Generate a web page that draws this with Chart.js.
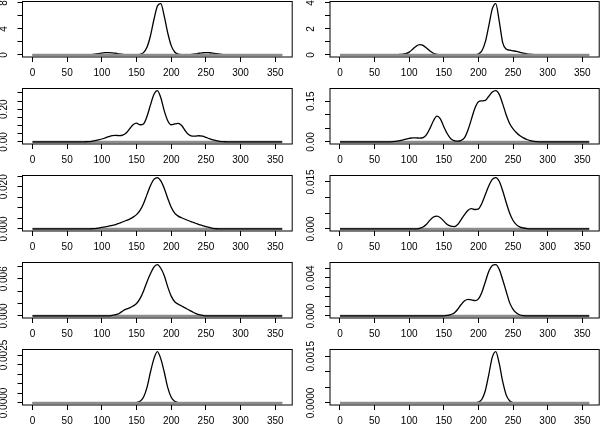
<!DOCTYPE html>
<html>
<head>
<meta charset="utf-8">
<script src="https://cdn.jsdelivr.net/npm/chart.js@4.4.1/dist/chart.umd.min.js"></script>
<style>
  html, body { margin: 0; padding: 0; background: #fff; overflow: hidden; }
  body { width: 600px; height: 429px; position: relative; }
  canvas { position: absolute; }
</style>
</head>
<body>
<script>
// x grid shared by all ten density curves
const X = [0, 60, 70, 75, 80, 85, 90, 95, 100, 105, 110, 115, 120, 125, 130, 135, 140, 145, 150, 155,
  160, 165, 170, 175, 180, 185, 190, 195, 200, 205, 210, 215, 220, 225, 230, 235, 240, 245, 250, 255,
  260, 265, 270, 275, 280, 285, 290, 300, 360];
const xTicks = [0, 50, 100, 150, 200, 250, 300, 350];
const zeroLine = [0, 360];

// left column (rows 1-5)
const yL1 = [0, 0, 0, 0.01,
  0.03, 0.06, 0.12, 0.2, 0.29, 0.37, 0.36, 0.33, 0.26, 0.17,
  0.1, 0.05, 0.03, 0.02, 0.03, 0.08, 0.35, 1.17, 2.91, 5.41,
  7.49, 7.9, 5.92, 3.37, 1.43, 0.45, 0.13, 0.05, 0.04, 0.06,
  0.1, 0.17, 0.26, 0.33, 0.37, 0.34, 0.29, 0.2, 0.12, 0.06,
  0.03, 0.01, 0, 0, 0];
const yL2 = [0, 0, 0, 0.001,
  0.002, 0.004, 0.008, 0.012, 0.018, 0.025, 0.032, 0.038, 0.04, 0.039,
  0.042, 0.055, 0.08, 0.105, 0.115, 0.105, 0.11, 0.155, 0.225, 0.29,
  0.314, 0.27, 0.19, 0.13, 0.105, 0.11, 0.113, 0.1, 0.07, 0.045,
  0.036, 0.036, 0.038, 0.035, 0.028, 0.02, 0.013, 0.008, 0.004, 0.002,
  0.001, 0, 0, 0, 0];
const yL3 = [0, 0, 0, 0,
  0, 0.0001, 0.0002, 0.0004, 0.0007, 0.001, 0.0013, 0.0017, 0.0021, 0.0027,
  0.0033, 0.004, 0.0047, 0.0056, 0.0068, 0.0088, 0.012, 0.0163, 0.0205, 0.0235,
  0.0244, 0.0228, 0.0192, 0.0145, 0.0103, 0.0075, 0.0061, 0.0053, 0.0046, 0.0039,
  0.0033, 0.0027, 0.0021, 0.0016, 0.0011, 0.0007, 0.0003, 0.0001, 0, 0,
  0, 0, 0, 0, 0];
const yL4 = [0, 0, 0, 0,
  0, 0, 0, 0, 0, 0, 0, 0.0001, 0.0002, 0.0004,
  0.0008, 0.0011, 0.0013, 0.0016, 0.002, 0.0028, 0.004, 0.0055, 0.0068, 0.0079,
  0.0083, 0.0077, 0.0065, 0.0047, 0.0032, 0.0023, 0.0019, 0.0016, 0.0013, 0.001,
  0.0007, 0.0004, 0.0002, 0.0001, 0, 0, 0, 0, 0, 0,
  0, 0, 0, 0, 0];
const yL5 = [0, 0, 0, 0,
  0, 0, 0, 0, 0, 0, 0, 0, 0, 0,
  0, 0, 0, 0, 0.00002, 0.00009, 0.0003, 0.0008, 0.0016, 0.0023,
  0.00268, 0.0023, 0.0016, 0.0008, 0.0003, 0.00009, 0.00002, 0, 0, 0,
  0, 0, 0, 0, 0, 0, 0, 0, 0, 0,
  0, 0, 0, 0, 0];

// right column (rows 1-5)
const yR1 = [0, 0, 0, 0.01,
  0.02, 0.03, 0.05, 0.1, 0.22, 0.44, 0.67, 0.79, 0.74, 0.53,
  0.3, 0.13, 0.05, 0.02, 0.01, 0.01, 0.01, 0.01, 0.01, 0.01,
  0.01, 0.01, 0.01, 0.02, 0.07, 0.32, 1.02, 2.26, 3.54, 3.95,
  2.6, 0.95, 0.45, 0.37, 0.32, 0.27, 0.2, 0.14, 0.08, 0.05,
  0.03, 0.01, 0, 0, 0];
const yR2 = [0, 0, 0, 0.001,
  0.002, 0.004, 0.007, 0.01, 0.013, 0.015, 0.015, 0.014, 0.016, 0.027,
  0.05, 0.078, 0.095, 0.085, 0.056, 0.03, 0.012, 0.005, 0.003, 0.006,
  0.016, 0.045, 0.085, 0.125, 0.148, 0.151, 0.153, 0.168, 0.184, 0.189,
  0.175, 0.14, 0.1, 0.068, 0.048, 0.034, 0.023, 0.015, 0.009, 0.005,
  0.002, 0.001, 0, 0, 0];
const yR3 = [0, 0, 0, 0,
  0, 0, 0, 0, 0, 0, 0, 0.0002, 0.0006, 0.0015,
  0.0028, 0.0038, 0.0041, 0.0036, 0.0025, 0.0014, 0.0009, 0.00075, 0.0014, 0.003,
  0.0046, 0.006, 0.0065, 0.0062, 0.0064, 0.0082, 0.011, 0.0138, 0.0158, 0.0164,
  0.0152, 0.0122, 0.0085, 0.0051, 0.0027, 0.0013, 0.0006, 0.0003, 0.0001, 0,
  0, 0, 0, 0, 0];
const yR4 = [0, 0, 0, 0,
  0, 0, 0, 0, 0, 0, 0, 0, 0, 0,
  0, 0, 0, 0, 0, 0.00005, 0.00015, 0.0003, 0.0007, 0.0012,
  0.0016, 0.00175, 0.0017, 0.0016, 0.0018, 0.0025, 0.0036, 0.0047, 0.0053, 0.0054,
  0.0049, 0.0038, 0.0026, 0.0014, 0.0007, 0.0003, 0.0001, 0.00003, 0, 0,
  0, 0, 0, 0, 0];
const yR5 = [0, 0, 0, 0,
  0, 0, 0, 0, 0, 0, 0, 0, 0, 0,
  0, 0, 0, 0, 0, 0, 0, 0, 0, 0,
  0, 0, 0, 0.00001, 0.000025, 0.00012, 0.0004, 0.00092, 0.00147, 0.00165,
  0.00127, 0.00069, 0.00026, 0.00007, 0.00001, 0, 0, 0, 0, 0,
  0, 0, 0, 0, 0];

// y ticks and which of them carry a label (R drops the crowded ones)
const ticksL1 = [0, 2, 4, 6, 8],                      labelsL1 = ['0', '4', '8'];
const ticksL2 = [0, 0.05, 0.1, 0.15, 0.2, 0.25, 0.3], labelsL2 = ['0.00', '0.20'];
const ticksL3 = [0, 0.005, 0.01, 0.015, 0.02, 0.025], labelsL3 = ['0.000', '0.020'];
const ticksL4 = [0, 0.002, 0.004, 0.006, 0.008],      labelsL4 = ['0.000', '0.006'];
const ticksL5 = [0, 0.0005, 0.001, 0.0015, 0.002, 0.0025], labelsL5 = ['0.0000', '0.0025'];
const ticksR1 = [0, 1, 2, 3, 4],                      labelsR1 = ['0', '2', '4'];
const ticksR2 = [0, 0.05, 0.1, 0.15],                 labelsR2 = ['0.00', '0.15'];
const ticksR3 = [0, 0.005, 0.01, 0.015],              labelsR3 = ['0.000', '0.015'];
const ticksR4 = [0, 0.001, 0.002, 0.003, 0.004, 0.005], labelsR4 = ['0.000', '0.004'];
const ticksR5 = [0, 0.0005, 0.001, 0.0015],           labelsR5 = ['0.0000', '0.0015'];

// grayTop: the gray zero line shows over the flat part of the curve
const panels = [
  { col: 0, row: 0, y: yL1, ticks: ticksL1, labels: labelsL1, grayTop: true },
  { col: 1, row: 0, y: yR1, ticks: ticksR1, labels: labelsR1, grayTop: true },
  { col: 0, row: 1, y: yL2, ticks: ticksL2, labels: labelsL2, grayTop: false },
  { col: 1, row: 1, y: yR2, ticks: ticksR2, labels: labelsR2, grayTop: false },
  { col: 0, row: 2, y: yL3, ticks: ticksL3, labels: labelsL3, grayTop: false },
  { col: 1, row: 2, y: yR3, ticks: ticksR3, labels: labelsR3, grayTop: false },
  { col: 0, row: 3, y: yL4, ticks: ticksL4, labels: labelsL4, grayTop: false },
  { col: 1, row: 3, y: yR4, ticks: ticksR4, labels: labelsR4, grayTop: false },
  { col: 0, row: 4, y: yL5, ticks: ticksL5, labels: labelsL5, grayTop: true },
  { col: 1, row: 4, y: yR5, ticks: ticksR5, labels: labelsR5, grayTop: true },
];

// layout (R mfrow=c(5,2) look)
const FONT_FAMILY = '"Liberation Sans", Arial, Helvetica, sans-serif';
const FONT_SIZE = 10;
const COLS = [
  { left: 0, yAxis: 22.5, padRight: 7.8 },
  { left: 300, yAxis: 30, padRight: 0.8 },
];
const ROW_STEP = 87, BOX_TOP = 1.5, BOX_H = 55.5, BELOW = 30, ABOVE = 20;

// box around the plot region + rotated y labels, like base graphics
const rBox = {
  id: 'rbox',
  afterDatasetsDraw(chart) {
    const { ctx, chartArea: a } = chart;
    ctx.save();
    ctx.strokeStyle = '#000';
    ctx.lineWidth = 1;
    ctx.strokeRect(a.left, a.top, a.right - a.left, a.bottom - a.top);
    ctx.restore();
  },
  afterDraw(chart, args, opts) {
    const { ctx, chartArea: a, scales } = chart;
    ctx.save();
    ctx.fillStyle = '#000';
    ctx.font = `${FONT_SIZE}px ${FONT_FAMILY}`;
    ctx.textAlign = 'center';
    ctx.textBaseline = 'middle';
    for (const lab of opts.labels) {
      ctx.save();
      ctx.translate(a.left - 18.3, scales.y.getPixelForValue(Number(lab)));
      ctx.rotate(-Math.PI / 2);
      ctx.fillText(lab, 0, 0);
      ctx.restore();
    }
    ctx.restore();
  },
};

for (const p of panels) {
  const col = COLS[p.col];
  const canvas = document.createElement('canvas');
  const h = ABOVE + BOX_TOP + BOX_H + BELOW;
  canvas.width = 300;
  canvas.height = h;
  canvas.style.left = col.left + 'px';
  canvas.style.top = (p.row * ROW_STEP - ABOVE) + 'px';
  document.body.appendChild(canvas);

  const ymax = Math.max(...p.y);
  const tickMarks = { drawOnChartArea: false, drawTicks: true, tickLength: 5, color: '#000', lineWidth: 1 };
  const curve = {
    data: X.map((x, i) => ({ x, y: p.y[i] })),
    borderColor: '#000', borderWidth: 1.3, pointRadius: 0,
    cubicInterpolationMode: 'monotone', fill: false,
  };
  const zero = {
    data: zeroLine.map((x) => ({ x, y: 0 })),
    borderColor: '#8c8c8c', borderWidth: 2.5, pointRadius: 0, fill: false,
  };

  new Chart(canvas, {
    type: 'line',
    // first dataset is painted last (on top)
    data: { datasets: p.grayTop ? [zero, curve] : [curve, zero] },
    options: {
      responsive: false, animation: false, events: [],
      layout: { padding: { top: ABOVE + BOX_TOP, right: col.padRight, bottom: 0, left: 0 } },
      plugins: { legend: { display: false }, tooltip: { enabled: false }, rbox: { labels: p.labels } },
      scales: {
        x: {
          type: 'linear', position: 'bottom',
          min: -14.4, max: 374.4,
          afterBuildTicks: (s) => { s.ticks = xTicks.map((v) => ({ value: v })); },
          afterFit: (s) => { s.height = BELOW; },
          grid: tickMarks,
          border: { display: false },
          ticks: {
            color: '#000', padding: 5, autoSkip: false, maxRotation: 0,
            font: { family: FONT_FAMILY, size: FONT_SIZE },
          },
        },
        y: {
          type: 'linear', position: 'left',
          min: -0.04 * ymax, max: 1.04 * ymax,
          afterBuildTicks: (s) => { s.ticks = p.ticks.map((v) => ({ value: v })); },
          afterFit: (s) => { s.width = col.yAxis; },
          grid: tickMarks,
          border: { display: false },
          ticks: { display: false },
        },
      },
    },
    plugins: [rBox],
  });
}
</script>
</body>
</html>
